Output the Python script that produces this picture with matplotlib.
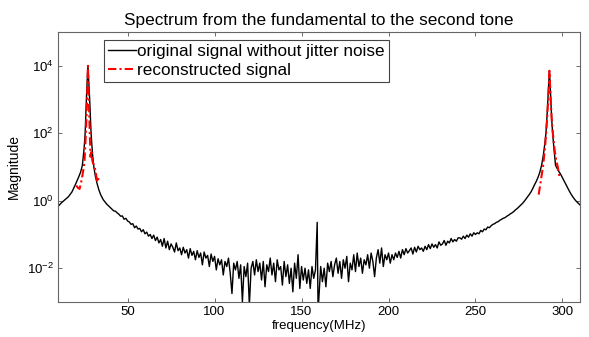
import matplotlib
matplotlib.use("Agg")
import matplotlib.pyplot as plt
import numpy as np
from matplotlib.ticker import NullLocator

plt.rcParams['font.family'] = ['Liberation Sans', 'DejaVu Sans']
plt.rcParams['mathtext.fontset'] = 'custom'
plt.rcParams['mathtext.rm'] = 'Liberation Sans'

# --- original signal: log10 of magnitude ---
freq_left = [10, 12, 14, 16, 18, 20, 21, 22, 23, 24, 25, 25.6, 26.3, 26.8, 27.2,
             27.6, 28.2, 29, 29.8, 30.6, 31.5, 32.5, 33.5, 34.5, 36, 38, 40]
log_left = [-0.17, -0.06, 0.03, 0.12, 0.26, 0.48, 0.60, 0.72, 0.85, 1.05, 1.55, 2.0, 3.0, 3.6, 4.0,
            3.6, 3.0, 2.0, 1.4, 1.0, 0.72, 0.5, 0.32, 0.18, 0.03, -0.10, -0.20]

freq_mid1 = list(range(41, 159))
log_mid1 = [-0.25, -0.30, -0.31, -0.36, -0.40, -0.46, -0.45, -0.55, -0.52, -0.60,
            -0.63, -0.70, -0.68, -0.80, -0.75, -0.84, -0.82, -0.92, -0.86, -0.98,
            -0.93, -1.05, -1.00, -1.12, -1.02, -1.18, -1.08, -1.25, -1.15, -1.35,
            -1.12, -1.40, -1.20, -1.45, -1.28, -1.38, -1.52, -1.25, -1.48, -1.40,
            -1.60, -1.38, -1.55, -1.45, -1.70, -1.42, -1.62, -1.50, -1.75, -1.48,
            -1.68, -1.55, -1.90, -1.52, -1.70, -1.62, -1.95, -1.58, -1.80, -1.65,
            -2.05, -1.72, -1.90, -1.75, -2.20, -1.80, -1.95, -1.70, -2.15, -2.75,
            -1.85, -2.05, -1.80, -2.30, -1.90, -3.00, -1.95, -2.25, -1.85, -3.10,
            -2.00, -1.80, -2.20, -1.75, -2.10, -1.85, -2.35, -1.80, -2.55, -1.90,
            -2.10, -1.70, -2.20, -1.85, -2.40, -1.75, -2.05, -1.95, -2.50, -1.80,
            -2.25, -1.90, -2.45, -2.00, -2.70, -1.85, -2.30, -1.60, -2.60, -1.95,
            -2.35, -2.00, -2.45, -2.05, -2.60, -1.95, -2.30, -2.05]

freq_spike = [159, 159.5]
log_spike = [-0.64, -3.3]

freq_mid2 = list(range(161, 287))
log_mid2 = [-1.95, -2.40, -2.00, -2.55, -1.85, -2.10, -1.80, -2.25, -1.90, -1.70,
            -2.15, -1.80, -2.30, -1.75, -2.00, -1.65, -2.40, -1.85, -2.05, -1.60,
            -2.10, -1.55, -1.95, -1.70, -2.15, -1.75, -1.90, -1.60, -2.00, -1.55,
            -1.80, -2.25, -1.70, -1.45, -1.85, -1.40, -1.95, -1.60, -1.75, -1.55,
            -1.85, -1.60, -1.75, -1.55, -1.68, -1.50, -1.70, -1.45, -1.60, -1.42,
            -1.55, -1.48, -1.40, -1.58, -1.38, -1.52, -1.35, -1.45, -1.40, -1.50,
            -1.35, -1.45, -1.30, -1.42, -1.28, -1.38, -1.30, -1.40, -1.22, -1.32,
            -1.28, -1.18, -1.32, -1.20, -1.25, -1.12, -1.22, -1.15, -1.20, -1.10,
            -1.10, -1.14, -1.05, -1.12, -1.02, -1.08, -0.98, -1.05, -0.95, -1.00,
            -0.95, -0.98, -0.88, -0.92, -0.84, -0.86, -0.78, -0.80, -0.74, -0.70,
            -0.68, -0.64, -0.62, -0.58, -0.55, -0.52, -0.50, -0.46, -0.43, -0.39,
            -0.36, -0.32, -0.27, -0.23, -0.18, -0.13, -0.08, -0.02, 0.05, 0.12,
            0.19, 0.27, 0.37, 0.48, 0.58, 0.70]

freq_right = [287, 288, 289, 290, 290.5, 291, 291.5, 292, 292.5, 293, 293.5, 294, 294.5,
              295, 296, 297, 298, 299, 300, 301, 302, 303, 304, 305, 306, 307, 308, 309, 310]
log_right = [0.85, 1.05, 1.35, 1.75, 2.0, 2.4, 2.9, 3.4, 3.86, 3.35, 2.75, 2.25, 1.9,
             1.6, 1.05, 0.95, 0.86, 0.78, 0.68, 0.58, 0.48, 0.38, 0.28, 0.19, 0.11, 0.04, -0.02, -0.07, -0.12]

# --- reconstructed signal (only around the two tones) ---
freq_rec1 = [20.5, 21.5, 22.4, 23.3, 24.2, 25.2, 26.1, 26.7, 27.2, 27.7, 28.2, 28.7, 29.2,
             29.7, 30.2, 30.9, 31.6, 32.6, 33.5]
log_rec1 = [0.45, 0.38, 0.35, 0.55, 0.80, 1.14, 2.1, 3.0, 4.0, 3.0, 2.1, 1.3, 1.5,
            1.2, 1.1, 1.05, 0.85, 0.55, 0.70]
freq_rec2 = [286.3, 287.3, 288.9, 290, 291, 291.8, 292.5, 293.2, 293.8, 294.5, 295.5,
             296.4, 297.3, 298.5]
log_rec2 = [0.18, 0.5, 1.05, 1.6, 2.3, 3.0, 3.85, 3.0, 2.4, 1.98, 1.5, 1.2, 1.0, 0.65]

freq_orig = freq_left + freq_mid1 + freq_spike + freq_mid2 + freq_right
mag_orig = 10.0 ** np.array(log_left + log_mid1 + log_spike + log_mid2 + log_right)
freq_rec = freq_rec1 + [np.nan] + freq_rec2
mag_rec = 10.0 ** np.array(log_rec1 + [np.nan] + log_rec2)

fig = plt.figure(figsize=(5.89, 3.37), dpi=100)
ax = fig.add_axes([0.0985, 0.104, 0.886, 0.801])

ax.semilogy(freq_orig, mag_orig, color='black', linewidth=1.0,
            label='original signal without jitter noise')
ax.semilogy(freq_rec, mag_rec, color='red', linestyle=(0, (4, 1.5, 1, 1.5)), linewidth=1.5,
            label='reconstructed signal')

ax.set_xlim(10, 310)
ax.set_ylim(1e-3, 1e5)
ax.set_xticks([50, 100, 150, 200, 250, 300])
ax.set_yticks([1e-2, 1e0, 1e2, 1e4])
ax.yaxis.set_minor_locator(NullLocator())
ax.tick_params(direction='in', top=True, right=True, length=3, width=0.6,
               color='#555555', labelsize=9.5, pad=3)
for s in ax.spines.values():
    s.set_color('#666666')
    s.set_linewidth(0.8)

ax.set_title('Spectrum from the fundamental to the second tone', fontsize=12.4, pad=5)
ax.set_xlabel('frequency(MHz)', fontsize=9.5, labelpad=1)
ax.set_ylabel('Magnitude', fontsize=10, labelpad=4)

leg = ax.legend(loc='upper left', bbox_to_anchor=(0.088, 0.97), borderaxespad=0,
                fontsize=12.3, handlelength=1.6, handletextpad=0.1,
                borderpad=0.25, labelspacing=0.2, fancybox=False, framealpha=1)
leg.get_frame().set_edgecolor('#444444')
leg.get_frame().set_linewidth(0.8)

fig.savefig('out.png', dpi=100)
